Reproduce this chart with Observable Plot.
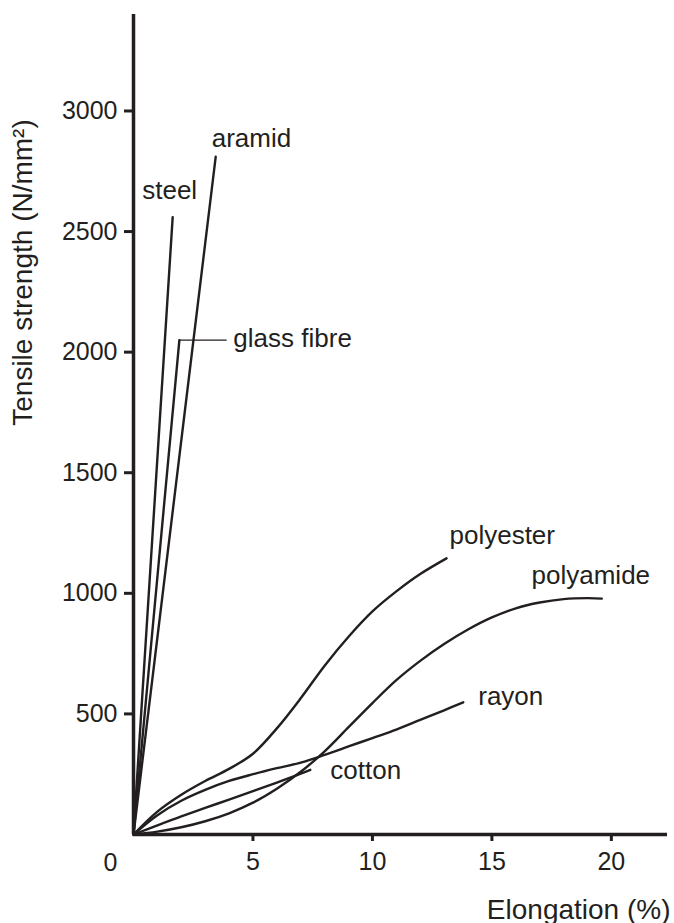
<!DOCTYPE html>
<html>
<head>
<meta charset="utf-8">
<script src="https://cdn.jsdelivr.net/npm/d3@7"></script>
<script src="https://cdn.jsdelivr.net/npm/@observablehq/plot@0.6"></script>
<style>
  html, body { margin: 0; padding: 0; background: #ffffff; }
  #chart svg { display: block; }
</style>
</head>
<body>
<div id="chart"></div>
<script>
// ---- Data ----
const xTicks = [5, 10, 15, 20];
const yTicks = [500, 1000, 1500, 2000, 2500, 3000];
const xMax = 22.35;
const yMax = 3400;

const steelX = [0, 1.64];
const steelY = [0, 2560];

const glassX = [0, 1.92];
const glassY = [0, 2050];

const aramidX = [0, 3.44];
const aramidY = [0, 2810];

const polyesterX = [0, 1, 2, 3, 4, 5, 6, 7, 8, 9, 10, 11, 12, 13.1];
const polyesterY = [0, 95, 165, 222, 272, 335, 440, 565, 700, 820, 925, 1008, 1080, 1145];

const polyamideX = [0, 1, 2, 3, 4, 5, 6, 7, 8, 9, 10, 11, 12, 13, 14, 15, 16, 17, 18, 19, 19.6];
const polyamideY = [0, 12, 30, 55, 88, 132, 190, 260, 345, 445, 545, 640, 720, 790, 850, 900, 938, 962, 976, 980, 978];

const rayonX = [0, 1, 2, 3, 4, 5, 6, 7, 8, 9, 10, 11, 12, 13, 13.8];
const rayonY = [0, 80, 140, 185, 222, 250, 275, 298, 330, 365, 400, 435, 475, 515, 548];

const cottonX = [0, 1, 2, 3, 4, 5, 6, 7, 7.4];
const cottonY = [0, 38, 75, 110, 145, 180, 215, 252, 268];

const names = ["steel", "glass fibre", "aramid", "polyester", "polyamide", "rayon", "cotton"];
const seriesX = [steelX, glassX, aramidX, polyesterX, polyamideX, rayonX, cottonX];
const seriesY = [steelY, glassY, aramidY, polyesterY, polyamideY, rayonY, cottonY];

// ---- Build tables ----
const rows = [];
const ends = {};
names.forEach((name, i) => {
  seriesX[i].forEach((x, j) => rows.push({material: name, x, y: seriesY[i][j]}));
  const n = seriesX[i].length - 1;
  ends[name] = {material: name, x: seriesX[i][n], y: seriesY[i][n]};
});

const ink = "#231f20";
const labelSize = 26;

function label(name, opts) {
  return Plot.text([ends[name]], {x: "x", y: "y", text: "material", fontSize: labelSize, fill: ink, ...opts});
}

const chart = Plot.plot({
  width: 674,
  height: 923,
  marginLeft: 133,
  marginRight: 7,
  marginTop: 14,
  marginBottom: 89,
  x: {domain: [0, xMax]},
  y: {domain: [0, yMax]},
  style: {fontFamily: "'Liberation Sans', Arial, Helvetica, sans-serif", fontSize: "25px", color: ink, background: "#ffffff"},
  marks: [
    Plot.axisY({ticks: yTicks, tickSize: 9, tickPadding: 7, strokeWidth: 3, label: null, fontSize: 25, tickFormat: d => String(d)}),
    Plot.axisX({ticks: xTicks, tickSize: 7, tickPadding: 11, strokeWidth: 3, label: null, fontSize: 25}),
    Plot.text(["0"], {frameAnchor: "bottom-left", text: d => d, textAnchor: "middle", lineAnchor: "middle", dx: -23, dy: 28, fontSize: 25, fill: ink}),
    Plot.ruleX([0], {y1: 0, y2: yMax, strokeWidth: 3.5, stroke: ink}),
    Plot.ruleY([0], {x1: 0, x2: xMax, strokeWidth: 3.5, stroke: ink}),
    Plot.line(rows, {x: "x", y: "y", z: "material", curve: "catmull-rom", stroke: ink, strokeWidth: 2.4}),
    // glass fibre leader
    Plot.ruleY([ends["glass fibre"]], {y: "y", x1: "x", x2: d => d.x + 2.0, stroke: ink, strokeWidth: 1.4}),
    label("steel", {textAnchor: "middle", lineAnchor: "bottom", dx: -3, dy: -18}),
    label("aramid", {textAnchor: "start", lineAnchor: "bottom", dx: -4, dy: -10}),
    label("glass fibre", {textAnchor: "start", lineAnchor: "middle", dx: 54, dy: -1}),
    label("polyester", {textAnchor: "start", lineAnchor: "bottom", dx: 3, dy: -14}),
    label("polyamide", {textAnchor: "middle", lineAnchor: "bottom", dx: -11, dy: -15}),
    label("rayon", {textAnchor: "start", lineAnchor: "bottom", dx: 15, dy: 3}),
    label("cotton", {textAnchor: "start", lineAnchor: "bottom", dx: 20, dy: 9}),
    // axis titles
    Plot.text(["Elongation (%)"], {frameAnchor: "bottom-right", text: d => d, textAnchor: "end", lineAnchor: "bottom", dx: 3, dy: 84, fontSize: 28, fill: ink}),
    Plot.text(["Tensile strength (N/mm\u00B2)"], {frameAnchor: "left", text: d => d, rotate: -90, textAnchor: "middle", lineAnchor: "middle", dx: -110, dy: -152, fontSize: 28, fill: ink})
  ]
});

document.getElementById("chart").appendChild(chart);
</script>
</body>
</html>
